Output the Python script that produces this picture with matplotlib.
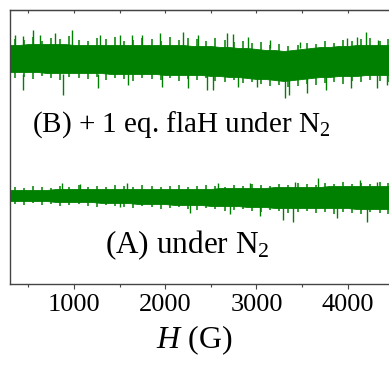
import matplotlib
matplotlib.use("Agg")
import matplotlib.pyplot as plt
from matplotlib.ticker import MultipleLocator

plt.rcParams["font.family"] = ["Liberation Serif", "DejaVu Serif"]
plt.rcParams["mathtext.fontset"] = "custom"
plt.rcParams["mathtext.rm"] = "Liberation Serif"
plt.rcParams["mathtext.it"] = "Liberation Serif:italic"

# field axis (G) for the band envelopes
field = [300, 400, 500, 600, 700, 800, 900, 1000, 1100, 1200, 1300, 1400, 1500,
         1600, 1700, 1800, 1900, 2000, 2100, 2200, 2300, 2400, 2500, 2600, 2700,
         2800, 2900, 3000, 3100, 3200, 3300, 3400, 3500, 3600, 3700, 3800, 3900,
         4000, 4100, 4200, 4300, 4400, 4450]

# trace B (+1 eq. flaH): solid core of the noise band (arb. units, offset)
b_upper = [239, 239, 240, 240, 240, 240, 240, 239, 239, 239, 239, 239, 239, 239,
           239, 239, 239, 239, 239, 239, 238, 238, 238, 237, 237, 236, 236, 235,
           234, 234, 233, 234, 235, 236, 237, 237, 238, 238, 239, 239, 239, 239, 239]
b_lower = [212, 212, 212, 212, 211, 211, 211, 211, 211, 211, 211, 210, 210, 210,
           210, 210, 210, 209, 209, 209, 209, 209, 208, 208, 207, 207, 206, 205,
           205, 204, 203, 204, 205, 206, 207, 207, 208, 208, 208, 209, 209, 209, 209]

# trace A (under N2)
a_upper = [94, 94, 94, 94, 94, 95, 95, 95, 95, 95, 95, 95, 95, 95, 95, 95, 95, 95,
           95, 95, 95, 95, 95, 96, 96, 96, 96, 96, 96, 97, 97, 97, 97, 97, 97,
           98, 98, 98, 98, 98, 98, 98, 98]
a_lower = [83, 83, 83, 83, 83, 82, 82, 82, 82, 82, 81, 81, 81, 81, 80, 80, 80, 80,
           79, 79, 79, 79, 78, 78, 78, 78, 77, 77, 77, 76, 76, 76, 76, 76, 76,
           76, 76, 76, 75, 75, 75, 75, 75]

# fringe of short noise spikes on both edges of each band
fringe_x = [350, 450, 550, 650, 750, 850, 950, 1050, 1150, 1250, 1350, 1450, 1550,
            1650, 1750, 1850, 1950, 2050, 2150, 2250, 2350, 2450, 2550, 2650, 2750,
            2850, 2950, 3050, 3150, 3250, 3350, 3450, 3550, 3650, 3750, 3850, 3950,
            4050, 4150, 4250, 4350, 4440]
b_fringe_up = [245, 244, 247, 243, 246, 245, 248, 244, 243, 246, 245, 247, 243, 244,
               246, 245, 243, 247, 244, 246, 245, 243, 246, 244, 242, 243, 241, 242,
               239, 240, 238, 239, 241, 240, 243, 241, 244, 243, 245, 246, 243, 245]
b_fringe_dn = [206, 207, 205, 208, 206, 204, 207, 206, 205, 207, 204, 206, 205, 203,
               206, 205, 204, 206, 203, 205, 204, 206, 203, 202, 204, 201, 202, 200,
               198, 199, 197, 198, 200, 199, 201, 202, 200, 203, 202, 204, 203, 202]
a_fringe_up = [97, 96, 98, 97, 96, 98, 97, 99, 97, 98, 97, 99, 98, 97, 99, 98, 97, 98,
               99, 97, 98, 99, 98, 97, 99, 98, 100, 99, 98, 100, 99, 101, 100, 99,
               101, 100, 102, 100, 101, 100, 102, 101]
a_fringe_dn = [80, 79, 81, 79, 80, 78, 79, 80, 78, 77, 79, 78, 77, 76, 78, 77, 75, 76,
               77, 75, 74, 76, 75, 73, 74, 75, 73, 72, 74, 73, 71, 72, 73, 71, 72,
               70, 72, 71, 70, 72, 71, 70]

# the longer isolated spikes
b_spike_up_x = [353, 441, 550, 627, 791, 978, 1285, 1504, 1636, 1745, 1943, 2195,
                2359, 2677, 2743, 2907, 3149, 3478, 3993, 4103, 4201, 4333]
b_spike_up_y = [249, 248, 254, 249, 251, 254, 249, 249, 249, 249, 251, 252,
                249, 251, 250, 247, 244, 242, 246, 247, 252, 244]
b_spike_dn_x = [441, 879, 1263, 1592, 1965, 2250, 2458, 2524, 2798, 3006, 3313,
                3357, 3555, 3763, 4037, 4322, 4432]
b_spike_dn_y = [194, 189, 196, 199, 197, 196, 194, 194, 197, 197, 186,
                189, 191, 194, 196, 196, 199]
a_spike_up_x = [868, 1066, 1581, 2579, 2930, 3423, 3675, 4136, 4322]
a_spike_up_y = [101, 100, 101, 101, 101, 102, 106, 104, 102]
a_spike_dn_x = [1504, 2272, 2710, 3039, 3291, 3401, 3884, 4213]
a_spike_dn_y = [77, 71, 70, 68, 64, 62, 66, 62]

labels = ["(A) under N$_2$", "(B) + 1 eq. flaH under N$_2$"]
green = "#008000"
axis_grey = "#444444"

fig = plt.figure(figsize=(3.89, 3.66), dpi=100)
ax = fig.add_axes([10 / 389, 82 / 366, 379 / 389, 274 / 366])

ax.fill_between(field, b_lower, b_upper, color=green, lw=0.6)
ax.fill_between(field, a_lower, a_upper, color=green, lw=0.6)
ax.vlines(fringe_x, 230, b_fringe_up, color=green, lw=1.1)
ax.vlines(fringe_x, 215, b_fringe_dn, color=green, lw=1.1)
ax.vlines(fringe_x, 90, a_fringe_up, color=green, lw=1.1)
ax.vlines(fringe_x, 86, a_fringe_dn, color=green, lw=1.1)
ax.vlines(b_spike_up_x, 236, b_spike_up_y, color=green, lw=1.0)
ax.vlines(b_spike_dn_x, 210, b_spike_dn_y, color=green, lw=1.0)
ax.vlines(a_spike_up_x, 92, a_spike_up_y, color=green, lw=1.0)
ax.vlines(a_spike_dn_x, 84, a_spike_dn_y, color=green, lw=1.0)

ax.text(1340, 31, labels[0], fontsize=22.5, va="baseline", ha="left")
ax.text(539, 152, labels[1], fontsize=21, va="baseline", ha="left")

ax.set_xlim(298, 4453)
ax.set_ylim(0, 274)
ax.set_yticks([])
ax.xaxis.set_major_locator(MultipleLocator(1000))
ax.xaxis.set_minor_locator(MultipleLocator(500))
ax.tick_params(axis="x", which="major", direction="out", length=3.5, width=0.8,
               labelsize=19, pad=4, color=axis_grey)
ax.tick_params(axis="x", which="minor", direction="out", length=2, width=0.8,
               color=axis_grey)
ax.set_xlabel("$H$ (G)", fontsize=23, labelpad=5)
ax.xaxis.label.set_x(0.487)

top = ax.secondary_xaxis("top")
top.xaxis.set_major_locator(MultipleLocator(1000))
top.xaxis.set_minor_locator(MultipleLocator(500))
top.tick_params(axis="x", which="both", direction="in", length=2, width=0.8,
                labeltop=False, color=axis_grey)
top.spines["top"].set_color(axis_grey)

ax.spines["right"].set_visible(False)
for s in ("left", "bottom", "top"):
    ax.spines[s].set_color(axis_grey)
    ax.spines[s].set_linewidth(1.0)

fig.savefig("out.png", dpi=100)
